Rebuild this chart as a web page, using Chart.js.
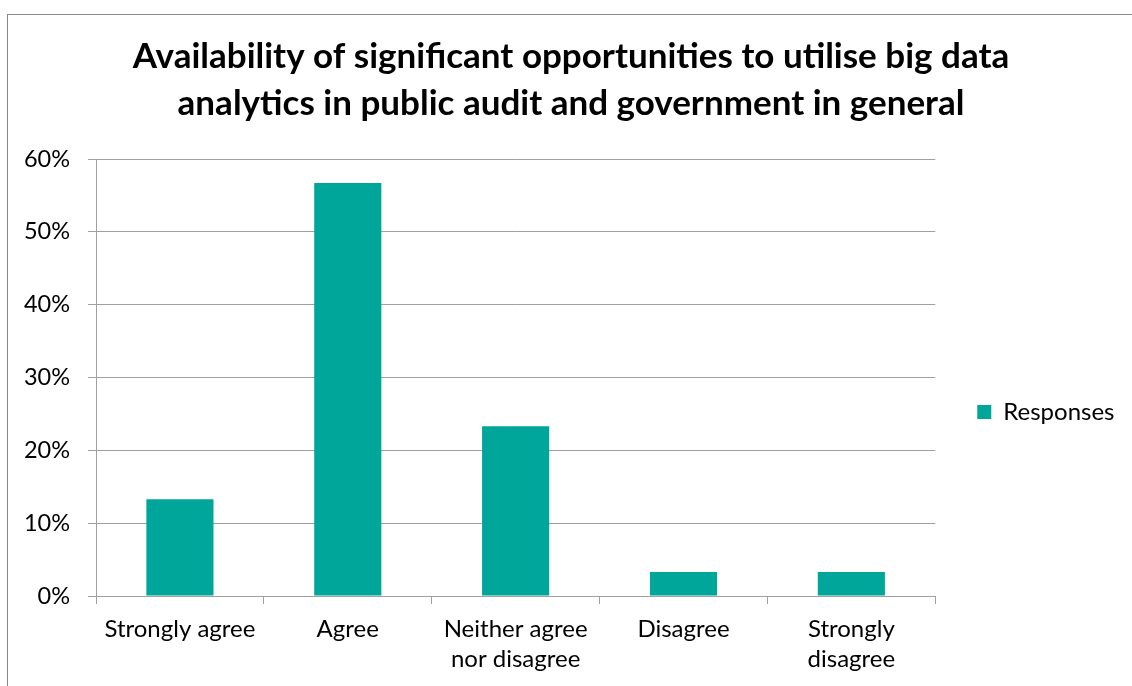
<!DOCTYPE html>
<html>
<head>
<meta charset="utf-8">
<script src="https://cdn.jsdelivr.net/npm/chart.js@4.4.1/dist/chart.umd.min.js"></script>
<style>
  html, body { margin: 0; padding: 0; background: #fff; overflow: hidden; width: 1132px; height: 686px; }
  #frame { position: absolute; left: 7px; top: 14px; border-left: 1px solid #8a8a8a; border-top: 1px solid #8a8a8a; }
  canvas { display: block; }
</style>
</head>
<body>
<div id="frame"><canvas id="chart" width="1132" height="794"></canvas></div>
<script>
// Survey answers (share of respondents, %)
const categories = [
  'Strongly agree',
  'Agree',
  ['Neither agree', 'nor disagree'],
  'Disagree',
  ['Strongly', 'disagree']
];
const responses = [13.3, 56.7, 23.3, 3.3, 3.3];
const seriesName = 'Responses';
const yTickLabels = ['0%', '10%', '20%', '30%', '40%', '50%', '60%'];
const titleLines = [
  'Availability of significant opportunities to utilise big data',
  'analytics in public audit and government in general'
];

const FONT = 'Lato, "Open Sans", sans-serif';
const AXIS_GREY = '#a0a0a0';
const BAR_COLOR = '#00A69A';
const PAD_LEFT = 9.5;
const PAD_RIGHT = 15.5;

new Chart(document.getElementById('chart'), {
  type: 'bar',
  data: {
    labels: categories,
    datasets: [{
      label: seriesName,
      data: responses,
      backgroundColor: BAR_COLOR,
      borderWidth: 0,
      barPercentage: 0.4,
      categoryPercentage: 1.0
    }]
  },
  options: {
    responsive: false,
    animation: false,
    devicePixelRatio: 1,
    layout: { padding: { left: PAD_LEFT, right: PAD_RIGHT, top: 0, bottom: 0 } },
    plugins: {
      title: {
        display: true,
        text: titleLines,
        color: '#000',
        font: { family: FONT, weight: 'bold', size: 35, lineHeight: 1.343 },
        padding: { top: 18.5, bottom: 31.5 }
      },
      legend: {
        position: 'right',
        fullSize: true,
        labels: {
          boxWidth: 14,
          boxHeight: 14,
          padding: 42,
          color: '#000',
          font: { family: FONT, size: 24 }
        }
      },
      tooltip: { enabled: false }
    },
    scales: {
      x: {
        grid: { drawOnChartArea: false, offset: true, tickLength: 8, color: AXIS_GREY },
        border: { color: AXIS_GREY },
        ticks: {
          color: '#000',
          padding: 9.75,
          maxRotation: 0,
          autoSkip: false,
          font: { family: FONT, size: 24, lineHeight: 1.27 }
        },
        afterFit: (scale) => { scale.height = 213; }
      },
      y: {
        min: 0,
        max: 60,
        grid: { tickLength: 8, color: AXIS_GREY },
        border: { color: AXIS_GREY },
        ticks: {
          stepSize: 10,
          padding: 18,
          color: '#000',
          font: { family: FONT, size: 23.5 },
          callback: (value) => yTickLabels[Math.round(value / 10)]
        },
        afterFit: (scale) => { scale.width = 88 - PAD_LEFT; }
      }
    }
  }
});
</script>
</body>
</html>
